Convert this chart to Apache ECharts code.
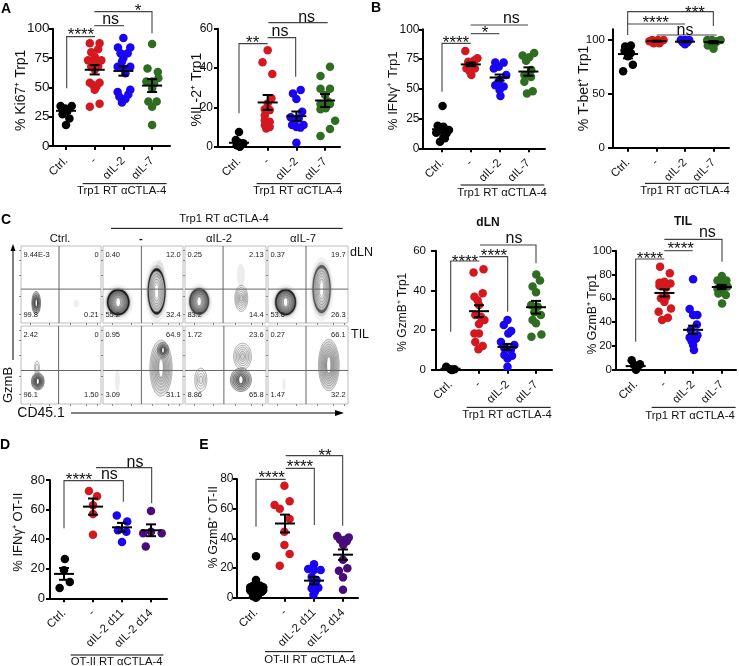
<!DOCTYPE html>
<html><head><meta charset="utf-8">
<style>html,body{margin:0;padding:0;background:#fff}#c{width:739px;height:666px}</style>
<script src="https://cdn.jsdelivr.net/npm/echarts@6/dist/echarts.min.js"></script>
</head><body><div id="c"></div>
<script>
const catsTrp1=['Ctrl.','-','αIL-2','αIL-7'];
const catsOT=['Ctrl.','-','αIL-2 d11','αIL-2 d14'];
// every point: [horizontal jitter in category units, value]
const ki67Ctrl=[[-.19,34],[.2,34],[-.03,32],[-.12,31],[.05,30],[-.12,27],[.12,23.5],[0,18]];
const ki67None=[[-.17,87.5],[.17,87.5],[.12,82.5],[-.12,80],[0,76],[-.23,73],[.23,73],[-.08,72],[.1,71],[-.12,67.5],[.12,68],[0,65],[-.17,54],[.17,54],[-.06,52],[.06,50.5],[0,48],[.17,36],[-.17,33.5]];
const ki67IL2=[[0,92],[-.19,84],[.24,84],[-.1,79],[.15,79],[0,75],[-.05,72],[-.2,67.5],[.24,67.5],[0,66],[.07,62],[.24,48],[-.2,46],[.17,44],[-.14,42],[.07,40],[-.05,37]];
const ki67IL7=[[0,87],[-.16,66],[.2,63],[.22,58],[-.2,55],[0,55],[.07,53],[0,49],[-.13,38],[.16,38],[0,33.5],[0,18]];
const ki67Mean=[[30,2],[65,4],[64,4],[51.5,5.5]];
const il2Ctrl=[[0,7.5],[-.11,3.4],[.15,1.7],[-.08,.8],[.03,0],[0,2]];
const il2None=[[0,49],[-.18,43],[.16,37],[.13,24.6],[0,22],[-.1,19],[.07,18.6],[-.1,16],[-.1,13.5],[.07,12.7],[-.1,11],[.07,10],[-.05,9.3]];
const il2IL2=[[.15,28.8],[-.12,27],[0,24.2],[.2,17.8],[-.2,15],[.08,14.4],[-.08,13],[.25,11],[-.15,11],[0,10],[.14,9.7],[0,2]];
const il2IL7=[[.17,40.7],[-.16,36],[-.16,29.5],[.17,29.5],[0,26.3],[.1,23],[-.16,21.7],[.17,21.7],[-.16,19],[.02,19.5],[.35,13.2],[.17,9],[-.16,5.4]];
const il2Mean=[[2,.8],[22.5,3.8],[15.5,2.4],[23.5,3.3]];
const ifnCtrl=[[.02,35.6],[-.15,19],[.05,18.2],[.24,15.4],[-.2,13],[0,15.4],[.16,12.6],[.05,9.2],[-.07,5.6],[.1,8.4]];
const ifnNone=[[-.19,81.8],[.23,75.6],[.13,74],[-.09,72.8],[.08,71.4],[-.15,67],[.14,67],[-.03,64.4],[.02,61.6]];
const ifnIL2=[[-.15,72],[.14,72],[-.2,67],[-.03,68.6],[.23,61.6],[0,57.4],[-.15,53],[-.06,53],[.14,52],[0,49],[.03,44]];
const ifnIL7=[[-.2,78],[.2,80],[.03,76.5],[-.08,73.6],[.1,65.8],[-.14,61.6],[.09,60],[-.14,56],[.15,48],[-.05,46]];
const ifnMean=[[16,2.5],[70.5,1.5],[59.5,2.5],[64.5,3.5]];
const tbetCtrl=[[.1,95],[-.1,94],[.03,92],[-.12,90],[.1,88],[0,85],[.17,77],[-.17,71]];
const tbetNone=[[-.25,99],[-.15,100],[-.05,98],[.05,100],[.15,99],[.25,100],[-.1,97],[.1,97],[0,99]];
const tbetIL2=[[-.15,100],[.15,100],[-.08,98],[.08,98],[0,96],[0,100]];
const tbetIL7=[[-.22,100],[.25,100],[-.2,95],[.05,97],[.12,99],[0,92],[-.05,100]];
const tbetMean=[[87,4],[99,.4],[98.5,.5],[98,1]];
const gzmLnCtrl=[[-.15,1.5],[0,.2],[.14,.2],[.05,-.2]];
const gzmLnNone=[[.16,50.6],[-.19,49],[.13,38.5],[-.16,36.8],[-.05,35],[0,32.6],[-.13,27.6],[.07,26.7],[.19,25],[0,23],[-.16,18.3],[0,18.3],[-.13,14],[.13,12],[-.02,10.3]];
const gzmLnIL2=[[0,25],[-.13,22.5],[.13,19.5],[.03,18.3],[-.23,14],[.24,12.4],[-.11,10.8],[.12,10],[-.11,7.4],[.16,7],[0,5.7],[0,1.5]];
const gzmLnIL7=[[.01,48],[.14,45],[-.12,42],[0,39],[-.17,32.6],[.06,31.8],[-.06,29],[.17,27.6],[-.12,25],[0,23.4],[.19,17.8],[-.16,16.6]];
const gzmLnMean=[[.5,.3],[29.5,3],[11.5,1.5],[31.5,3.2]];
const gzmTilCtrl=[[-.14,8],[.15,4.5],[-.05,3.9],[.03,1],[.01,0],[.07,2.5]];
const gzmTilNone=[[-.15,86.5],[.19,81],[0,74],[-.17,73],[.21,72.5],[-.17,70.5],[.06,69],[-.12,60],[.06,61],[0,57],[.23,51.5],[-.2,48.7],[.12,43.7],[-.08,41.7]];
const gzmTilIL2=[[0,76],[-.12,51],[.15,46],[0,46],[.13,38],[-.08,33.3],[.15,29],[-.12,27],[.1,26],[-.05,24],[0,20.7],[.03,16.5]];
const gzmTilIL7=[[0,78.7],[-.15,75],[.16,75],[0,74],[.2,70],[-.15,68],[0,65.5],[-.12,64],[.14,62.7],[.01,55.7]];
const gzmTilMean=[[3,1],[64.5,3],[33.5,3.5],[69.5,1.8]];
const otIfnCtrl=[[.03,26.5],[0,19],[.2,11],[-.15,7]];
const otIfnNone=[[-.14,72.5],[.14,69],[0,63],[0,57],[0,43]];
const otIfnD11=[[-.18,56],[.18,52],[-.14,46],[.15,45],[0,38]];
const otIfnD14=[[0,59],[0,45],[.37,44],[-.27,44],[-.18,35]];
const otIfnMean=[[16.5,4],[62,5.5],[48,3],[46,4]];
const otGzmCtrl=[[0,28],[0,12],[-.2,7],[.25,7],[-.1,8],[.15,8],[0,6],[-.15,4],[.2,4],[-.05,3],[.1,3],[-.1,1],[.05,1],[0,0],[-.2,5],[.25,5]];
const otGzmNone=[[-.02,75.5],[.16,65],[-.36,62.5],[-.18,60],[.16,53],[-.02,44.5],[-.02,35.5],[.16,29.5],[-.18,21.5]];
const otGzmD11=[[0,22.5],[-.2,19.3],[.23,18.7],[0,18.7],[-.08,14],[.09,12],[-.02,10],[.15,6.7],[-.08,6.3],[.08,8],[.03,4],[-.02,2]];
const otGzmD14=[[-.2,41.5],[.2,40.5],[-.1,39],[.13,38],[.08,39],[0,37],[.01,35.5],[0,25.5],[.15,19.8],[-.14,18.2],[0,13.7],[0,5.4]];
const otGzmMean=[[7,2.3],[50,6],[11.5,2.5],[29,3.5]];
const yTicks100=[0,25,50,75,100];
const yTicks60=[0,20,40,60];
const yTicksTbet=[0,50,100];
const yTicks100b=[0,20,40,60,80,100];
const yTicks80=[0,20,40,60,80];
const flowHeaders=['Ctrl.','-','αIL-2','αIL-7'];
const flowLabelsDLN=[['9.44E-3','0','99.8','0.21'],['0.40','12.0','55.2','32.4'],['0.25','2.13','83.2','14.4'],['0.37','19.7','53.6','26.3']];
const flowLabelsTIL=[['2.42','0','96.1','1.50'],['0.95','64.9','3.09','31.1'],['1.72','23.6','8.86','65.8'],['0.27','66.1','1.47','32.2']];
// contour clusters: [centre CD45.1, centre GzmB, spread x, spread y, rings, density 0-1, halo style 0/1/2]
const blobsDLN=[
 [[19,26,5.5,15,6,1,0],[69,25,3,5,0,0,0]],
 [[19,27,14,17,6,1,2],[67,41,11,30,8,.95,1],[71,70,5,12,0,0,0]],
 [[17.5,28,12,17,6,.7,2],[69.5,32,8,17,6,.15,0],[69,62,5,15,0,0,0]],
 [[22,27,13,17,6,.95,2],[67,44,11,31,8,.55,1]]];
const blobsTIL=[
 [[21,29,8,11,8,1,0],[20,46,3,9,2,.1,0]],
 [[72.5,46,14,36,9,.45,0],[75,69,7,10,5,1,0],[18,30,3,14,0,0,0]],
 [[19.5,31,7.5,15,4,.05,0],[71,61,11,17,6,.2,0],[69,31,13,15,7,.8,0]],
 [[76,50,13,33,10,.55,0],[20,25,2,8,0,0,0]]];

const BLUE='#1a05f2',RED='#d3191f',GREEN='#2f6d21',PURPLE='#4a0c78',BLACK='#000';
const FONT='"Liberation Sans",Arial,sans-serif';
const C4=[BLACK,RED,BLUE,GREEN],C4b=[BLACK,RED,BLUE,PURPLE];
const panels=[
 {cats:catsTrp1,groups:[ki67Ctrl,ki67None,ki67IL2,ki67IL7],mean:ki67Mean,colors:C4,name:'% Ki67⁺ Trp1',ticks:yTicks100,ymax:100,l:53,r:170,t:28.7,b:146,c0:66,dx:28.7,nx:21,fs:13.5,nf:14,m:3.5,tl:4,pad:[0,6,0,0]},
 {cats:catsTrp1,groups:[il2Ctrl,il2None,il2IL2,il2IL7],mean:il2Mean,colors:C4,name:'%IL-2⁺ Trp1',ticks:yTicks60,ymax:60,l:218,r:340,t:28.7,b:146.7,c0:239,dx:28.7,nx:197,fs:12,nf:14,m:5,tl:4,pad:[0,4,0,0]},
 {cats:catsTrp1,groups:[ifnCtrl,ifnNone,ifnIL2,ifnIL7],mean:ifnMean,colors:C4,name:'% IFNγ⁺ Trp1',ticks:yTicks100,ymax:100,l:423,r:545,t:29.3,b:148.3,c0:442,dx:28.8,nx:393,fs:12,nf:13.3,m:3.5,tl:4,pad:[0,4,0,0]},
 {cats:catsTrp1,groups:[tbetCtrl,tbetNone,tbetIL2,tbetIL7],mean:tbetMean,colors:C4,name:'% T-bet⁺ Trp1',ticks:yTicksTbet,ymax:110,l:613,r:729,t:29.3,b:147.7,c0:628,dx:28.5,nx:584,fs:11.5,nf:14,m:8,tl:5,pad:[0,0,0,0]},
 {cats:catsTrp1,groups:[gzmLnCtrl,gzmLnNone,gzmLnIL2,gzmLnIL7],mean:gzmLnMean,colors:C4,name:'% GzmB⁺ Trp1',ticks:yTicks60,ymax:60,l:436,r:552,t:250.7,b:369.7,c0:450.5,dx:28.5,nx:402,fs:11.5,nf:12,m:10,tl:5,pad:[0,4,0,0]},
 {cats:catsTrp1,groups:[gzmTilCtrl,gzmTilNone,gzmTilIL2,gzmTilIL7],mean:gzmTilMean,colors:C4,name:'% GzmB⁺ Trp1',ticks:yTicks100b,ymax:100,l:616,r:736,t:250.7,b:369.7,c0:635.7,dx:28.7,nx:592,fs:11.5,nf:12.3,m:4,tl:4,pad:[0,8,0,0]},
 {cats:catsOT,groups:[otIfnCtrl,otIfnNone,otIfnD11,otIfnD14],mean:otIfnMean,colors:C4b,name:'% IFNγ⁺ OT-II',ticks:yTicks80,ymax:80,l:50,r:167,t:480,b:598.3,c0:64,dx:29,nx:18,fs:13,nf:13,m:5,tl:4,pad:[0,0,0,14]},
 {cats:catsOT,groups:[otGzmCtrl,otGzmNone,otGzmD11,otGzmD14],mean:otGzmMean,colors:C4b,name:'% GzmB⁺ OT-II',ticks:yTicks80,ymax:80,l:237,r:358,t:479,b:597.7,c0:256,dx:29,nx:213,fs:12,nf:12.2,m:3.5,tl:4,pad:[0,0,0,22]}
];

const grid=[],xAxis=[],yAxis=[],series=[];
panels.forEach((p,i)=>{
 grid.push({left:p.l,top:p.t,width:p.r-p.l,height:p.b-p.t,containLabel:false});
 const idx=p.cats.map((_,k)=>k);
 xAxis.push({type:'value',gridIndex:i,min:(p.l-p.c0)/p.dx,max:(p.r-p.c0)/p.dx,splitLine:{show:false},
  axisLine:{onZero:false,lineStyle:{color:'#000',width:2}},
  axisTick:{length:4,lineStyle:{color:'#000',width:2},customValues:idx},
  axisLabel:{customValues:idx,rotate:45,margin:13,color:'#111',fontSize:11.5,fontFamily:FONT,interval:0,hideOverlap:false,formatter:v=>p.cats[Math.round(v)]}});
 yAxis.push({type:'value',gridIndex:i,min:0,max:p.ymax,splitLine:{show:false},
  name:p.name,nameLocation:'middle',nameGap:p.l-p.nx-7,nameMoveOverlap:false,nameTextStyle:{color:'#111',fontSize:p.nf,fontFamily:FONT,padding:p.pad},
  axisLine:{show:true,onZero:false,lineStyle:{color:'#000',width:2}},
  axisTick:{show:true,length:p.tl,lineStyle:{color:'#000',width:2},customValues:p.ticks},
  axisLabel:{customValues:p.ticks,margin:p.m,color:'#111',fontSize:p.fs,fontFamily:FONT}});
 p.groups.forEach((g,k)=>series.push({type:'scatter',xAxisIndex:i,yAxisIndex:i,clip:false,symbolSize:8.5,silent:true,
  itemStyle:{color:p.colors[k],opacity:1},data:g.map(d=>[k+d[0],d[1]])}));
 series.push({type:'custom',xAxisIndex:i,yAxisIndex:i,clip:false,silent:true,z:5,
  data:p.mean.map((m,k)=>[k,m[0],m[1]]),encode:{x:0,y:1},
  renderItem:(par,api)=>{
   const x=api.value(0),m=api.value(1),s=api.value(2);
   const c=api.coord([x,m]),hi=api.coord([x,m+s]),lo=api.coord([x,m-s]);
   const st={stroke:'#000',lineWidth:2,fill:null};
   const L=(a,b,c2,d)=>({type:'line',shape:{x1:a,y1:b,x2:c2,y2:d},style:st});
   return {type:'group',children:[L(c[0]-10,c[1],c[0]+10,c[1]),L(c[0],hi[1],c[0],lo[1]),L(c[0]-5,hi[1],c[0]+5,hi[1]),L(c[0]-5,lo[1],c[0]+5,lo[1])]};
  }});
});

// flow cytometry boxes
const colX=[[21,101],[103,183],[185,266],[268,348]];
const rows=[{t:246,b:323,gy:44,labels:flowLabelsDLN,blobs:blobsDLN,gx:[47.5,48,47,47.5]},{t:326,b:404,gy:43,labels:flowLabelsTIL,blobs:blobsTIL,gx:[47,48,48,47.5]}];
const flowTicks=[12,35,62,82,95];
rows.forEach(r=>colX.forEach((cx,c)=>{
 const i=grid.length;
 grid.push({left:cx[0],top:r.t,width:cx[1]-cx[0],height:r.b-r.t,show:true,borderColor:'#bcbcbc',borderWidth:1,backgroundColor:'#fff'});
 xAxis.push({type:'value',gridIndex:i,min:0,max:100,splitLine:{show:false},axisLabel:{show:false},axisLine:{show:false},
  axisTick:{show:true,length:2,lineStyle:{color:'#888',width:1},customValues:flowTicks}});
 yAxis.push({type:'value',gridIndex:i,min:0,max:100,splitLine:{show:false},axisLabel:{show:false},axisLine:{show:false},
  axisTick:{show:true,length:2,lineStyle:{color:'#888',width:1},customValues:flowTicks}});
 series.push({type:'custom',xAxisIndex:i,yAxisIndex:i,silent:true,clip:true,
  data:r.blobs[c],encode:{x:0,y:1},
  renderItem:(par,api)=>{
   const cxv=api.value(0),cyv=api.value(1),rxv=api.value(2),ryv=api.value(3),n=api.value(4),den=api.value(5),halo=api.value(6);
   const ctr=api.coord([cxv,cyv]),sz=api.size([rxv,ryv]);
   const E=(f,style)=>({type:'ellipse',shape:{cx:ctr[0],cy:ctr[1],rx:sz[0]*f,ry:sz[1]*f},style});
   const kids=[];
   if(n===0){kids.push(E(1,{fill:'rgba(0,0,0,.07)',stroke:null}));return {type:'group',children:kids};}
   if(halo){kids.push(E(1.35,{fill:'rgba(0,0,0,.05)',stroke:null}));kids.push(E(1.15,{fill:'rgba(0,0,0,.14)',stroke:null}));}
   for(let k=0;k<n;k++){const f=1-k/(n+.4);let fill,stroke,lw;
    if(den<=.25){fill=k>n/2?'rgba(0,0,0,.05)':'rgba(0,0,0,.02)';stroke='#666';lw=.5;}
    else if(halo){
     const edge=Math.round(175-150*den);
     const base=halo===2?90+22*k:180+9*k;
     const v=k===0?edge:Math.min(base,245);
     fill=`rgb(${v},${v},${v})`;stroke=k===0?'#222':'#777';lw=.5;}
    else{const sh=Math.round(235-(235-70-60*(1-den))*(k+1)/n*den);fill=`rgb(${sh},${sh},${sh})`;stroke=den>.6?'#333':'#777';lw=.5;}
    kids.push(E(f,{fill,stroke,lineWidth:lw}));}
   if(den>.25)kids.push({type:'ellipse',shape:{cx:ctr[0],cy:ctr[1],rx:sz[0]*.16,ry:sz[1]*.3},style:{fill:'#fff',stroke:null}});
   return {type:'group',children:kids};
  }});
 series.push({type:'custom',xAxisIndex:i,yAxisIndex:i,silent:true,clip:false,z:4,
  data:[[r.gx[c],r.gy]],encode:{x:0,y:1},
  renderItem:(par,api)=>{
   const p=api.coord([api.value(0),api.value(1)]),a=api.coord([0,0]),b=api.coord([100,100]);
   const st={stroke:'#666',lineWidth:1};
   return {type:'group',children:[{type:'line',shape:{x1:p[0],y1:a[1],x2:p[0],y2:b[1]},style:st},{type:'line',shape:{x1:a[0],y1:p[1],x2:b[0],y2:p[1]},style:st}]};
  }});
 const lab=r.labels[c];
 series.push({type:'custom',xAxisIndex:i,yAxisIndex:i,silent:true,clip:false,z:6,
  data:[[3,89,lab[0],'left'],[97,89,lab[1],'right'],[3,11,lab[2],'left'],[97,11,lab[3],'right']],encode:{x:0,y:1},
  renderItem:(par,api)=>{
   const p=api.coord([api.value(0),api.value(1)]);
   return {type:'text',x:p[0],y:p[1],style:{text:lab[par.dataIndex],fill:'#222',font:'7.5px '+FONT,align:par.dataIndex%2?'right':'left',verticalAlign:'middle'}};
  }});
}));

// annotations (page pixels)
const graphic=[];
const line=(pts,col='#444',w=1.1)=>graphic.push({type:'polyline',silent:true,z:10,shape:{points:pts},style:{stroke:col,lineWidth:w,fill:null}});
const text=(s,x,y,size,o={})=>graphic.push({type:'text',silent:true,z:10,x,y,rotation:o.rot||0,style:{text:s,fill:o.col||'#111',font:(o.bold?'bold ':'')+size+'px '+FONT,align:o.align||'center',verticalAlign:'middle'}});
const Z=(ox,oy,a)=>a.map(p=>[p[0]/3+ox,p[1]/3+oy]);
const stars=(s,zx,zy,ox,oy)=>text(s,zx/3+ox,zy/3+oy+4,17);
const ns=(zx,zy,ox,oy)=>text('ns',zx/3+ox,zy/3+oy,16);
// A
line(Z(0,0,[[200,265],[200,110],[285,110]]));stars('****',243,95,0,0);
line(Z(0,0,[[283,77],[372,77]]));ns(332,58,0,0);
line(Z(0,0,[[283,35],[456,35],[456,100]]));stars('*',414,22,0,0);
line(Z(0,0,[[717,340],[717,131],[803,131]]));stars('**',758,118,0,0);
line(Z(0,0,[[803,113],[887,113],[887,230]]));ns(840,95,0,0);
line(Z(0,0,[[805,68],[983,68]]));ns(920,52,0,0);
// B
line(Z(370,0,[[216,275],[216,130],[302,130]]));stars('****',258,117,370,0);
line(Z(370,0,[[302,101],[388,101]]));stars('*',345,88,370,0);
line(Z(370,0,[[302,75],[474,75]]));ns(424,56,370,0);
line(Z(370,0,[[773,105],[773,72],[945,72]]));stars('****',857,57,370,0);
line(Z(370,0,[[773,72],[773,35],[1030,35],[1030,78]]));stars('***',975,27,370,0);
line(Z(370,0,[[860,105],[1040,105]]));ns(945,92,370,0);
// C right
line(Z(370,205,[[242,380],[242,168],[328,168]]));stars('****',285,160,370,205);
line(Z(370,205,[[328,155],[413,155],[413,320]]));stars('****',372,143,370,205);
line(Z(370,205,[[330,120],[498,120],[498,175]]));ns(432,102,370,205);
line(Z(370,205,[[797,410],[797,162],[883,162]]));stars('****',840,151,370,205);
line(Z(370,205,[[883,137],[968,137]]));stars('****',932,122,370,205);
line(Z(370,205,[[883,103],[1056,103],[1056,170]]));ns(1012,83,370,205);
// D,E
line(Z(0,435,[[192,280],[192,137],[280,137]]));stars('****',237,124,0,435);
line(Z(0,435,[[280,137],[370,137],[370,200]]));ns(328,120,0,435);
line(Z(0,435,[[288,98],[455,98],[455,205]]));ns(405,82,0,435);
line(Z(0,435,[[768,275],[768,133],[857,133]]));stars('****',815,118,0,435);
line(Z(0,435,[[857,100],[943,100],[943,270]]));stars('****',900,85,0,435);
line(Z(0,435,[[857,62],[1028,62],[1028,272]]));stars('**',975,52,0,435);
// group rules
const grp=(s,x1,x2,y,tx,ty,ox,oy)=>{line(Z(ox,oy,[[x1,y],[x2,y]]),'#000',1);text(s,tx/3+ox,ty/3+oy,11.3);};
const T='Trp1 RT αCTLA-4',O='OT-II RT αCTLA-4';
grp(T,248,500,551,365,572,0,0);grp(T,770,1022,551,893,572,0,0);
grp(T,272,523,555,396,580,370,0);grp(T,825,1077,550,945,572,370,0);
grp(T,290,542,607,411,630,370,205);grp(T,845,1097,607,960,632,370,205);
grp(O,212,490,660,350,680,0,435);grp(O,795,1060,650,930,675,0,435);
// panel letters and titles
text('A',6,9,14,{bold:true,col:'#000'});text('B',376,8,14,{bold:true,col:'#000'});text('C',6,220,14,{bold:true,col:'#000'});text('D',5,445,14,{bold:true,col:'#000'});text('E',204,445,14,{bold:true,col:'#000'});
text('dLN',488,223,12,{bold:true});text('TIL',683,222,12,{bold:true});
// flow panel labels
line(Z(0,205,[[333,70],[1028,70]]),'#000',1);text(T,224,219,11.3);
[60,141,219,303].forEach((x,i)=>text(flowHeaders[i],x,239,11.3,{bold:i==1}));
text('dLN',350,253,12.5,{align:'left'});text('TIL',351,335,12.5,{align:'left'});
text('GzmB',8,385,13,{rot:Math.PI/2});text('CD45.1',41,413,14);
line([[13,360],[13,250]],'#000',1);graphic.push({type:'polygon',silent:true,shape:{points:[[13,244],[10.5,251],[15.5,251]]},style:{fill:'#000'}});
line([[71,413],[336,413]],'#000',1);graphic.push({type:'polygon',silent:true,shape:{points:[[344,413],[335,410],[335,416]]},style:{fill:'#000'}});

const chart=echarts.init(document.getElementById('c'),null,{renderer:'canvas'});
chart.setOption({animation:false,backgroundColor:'#fff',tooltip:{show:false},textStyle:{fontFamily:FONT},grid,xAxis,yAxis,series,graphic});
</script></body></html>
